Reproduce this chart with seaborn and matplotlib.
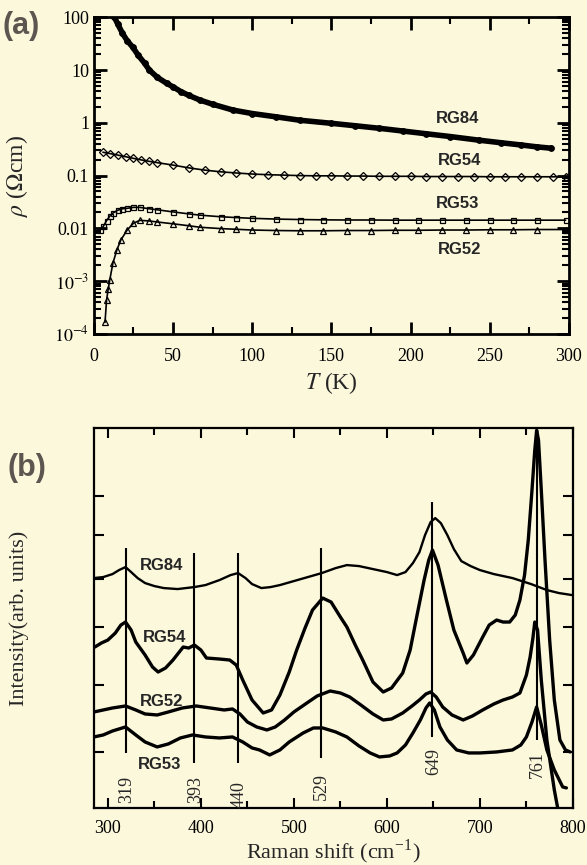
import numpy as np
import pandas as pd
import matplotlib
matplotlib.use("Agg")
import matplotlib.pyplot as plt
import seaborn as sns

# ===================== Data: resistivity (panel a) =====================
t_84 = [13, 15, 18, 21, 24.6, 28, 32, 35, 40, 46, 50, 55, 60, 67, 75, 88, 100, 115, 130, 150,
        165, 180, 195, 210, 225, 243, 257, 270, 280, 289]
rho_84 = [100, 75, 50, 36, 27, 19, 13.5, 10, 7.3, 5.6, 4.8, 3.9, 3.3, 2.7, 2.25, 1.74, 1.5, 1.3, 1.12, 0.98,
          0.88, 0.79, 0.7, 0.62, 0.55, 0.47, 0.42, 0.38, 0.35, 0.33]

t_54 = [5.7, 10, 15, 20, 25, 30, 35, 40, 50, 60, 70, 80, 90, 100, 110, 120, 130, 140, 150, 160,
        170, 180, 190, 200, 210, 220, 230, 240, 250, 260, 270, 280, 290, 298]
rho_54 = [0.277, 0.262, 0.245, 0.228, 0.212, 0.198, 0.186, 0.176, 0.158, 0.14, 0.127, 0.118, 0.112, 0.107,
          0.104, 0.102, 0.1, 0.099, 0.099, 0.098, 0.098, 0.097, 0.097, 0.097, 0.096, 0.096, 0.096, 0.096,
          0.095, 0.095, 0.095, 0.095, 0.095, 0.095]

t_53 = [4, 6, 8, 10, 12, 15, 18, 21, 25, 29, 35, 40, 50, 60, 67, 80, 90, 100, 115, 130, 145, 160, 175,
        190, 205, 220, 235, 250, 265, 280, 298]
rho_53 = [0.0093, 0.011, 0.014, 0.017, 0.0195, 0.022, 0.0235, 0.024, 0.025, 0.025, 0.0235, 0.0225, 0.0205,
          0.0188, 0.0178, 0.0166, 0.016, 0.0155, 0.015, 0.0147, 0.0145, 0.0144, 0.0144, 0.0143, 0.0143,
          0.0143, 0.0143, 0.0143, 0.0143, 0.0143, 0.0143]

t_52 = [7, 8, 9, 10, 12, 14.5, 17, 21, 25, 29, 35, 40, 50, 60, 67, 80, 90, 100, 115, 130, 145, 160, 175,
        190, 205, 220, 235, 250, 265, 280, 298]
rho_52 = [1.65e-4, 4.4e-4, 7e-4, 1.05e-3, 2.2e-3, 3.9e-3, 6e-3, 9.3e-3, 0.0125, 0.0142, 0.0138, 0.0132,
          0.0122, 0.0112, 0.0105, 0.0099, 0.0096, 0.0093, 0.0091, 0.009, 0.009, 0.0091, 0.0091, 0.0092,
          0.0092, 0.0093, 0.0093, 0.0094, 0.0094, 0.0095, 0.0095]

# ===================== Data: Raman spectra (panel b), arb. units =====================
w_84 = [285, 295, 305, 312, 319, 325, 332, 340, 350, 360, 375, 393, 405, 420, 432, 440, 448, 455, 465,
        475, 485, 500, 515, 530, 545, 557, 570, 585, 600, 611, 620, 628, 635, 641, 647, 652, 658, 665,
        672, 680, 690, 700, 715, 735, 755, 772, 785, 799]
i_84 = [230, 231, 234, 238, 241, 236, 230, 225, 222, 220, 219, 221, 223, 228, 233, 235, 230, 224, 220,
        221, 223, 227, 231, 235, 240, 243, 242, 239, 236, 233, 236, 245, 256, 273, 286, 290, 285, 273,
        259, 247, 242, 238, 234, 230, 224, 218, 215, 213]

w_54 = [286, 293, 300, 308, 314, 319, 325, 330, 340, 348, 354, 362, 370, 381, 387, 393, 400, 406, 420,
        431, 438, 445, 455, 467, 476, 485, 495, 503, 512, 520, 531, 540, 550, 557, 566, 574, 585, 596,
        605, 617, 625, 632, 640, 645, 649, 655, 664, 672, 682, 686, 693, 703, 710, 718, 725, 732, 738,
        743, 748, 752, 756, 759, 761, 763, 766, 770, 775, 780, 786, 792, 797]
i_54 = [161, 165, 168, 175, 183, 186, 178, 166, 153, 141, 136, 140, 148, 161, 160, 163, 158, 150, 149,
        148, 143, 128, 108, 95, 98, 113, 136, 158, 180, 198, 210, 206, 191, 181, 163, 148, 126, 116,
        120, 135, 158, 191, 228, 248, 258, 243, 208, 178, 155, 145, 153, 171, 183, 188, 186, 186, 193,
        208, 233, 268, 318, 358, 378, 368, 318, 248, 168, 108, 68, 58, 56]

w_52 = [285, 295, 305, 319, 330, 340, 353, 365, 380, 395, 410, 425, 434, 442, 450, 460, 471, 480, 490,
        500, 514, 525, 539, 550, 560, 572, 585, 596, 605, 617, 627, 635, 642, 647, 653, 660, 670, 682,
        692, 703, 715, 725, 735, 743, 750, 754, 757, 759, 762, 766, 772, 780, 786]
i_52 = [96, 98, 100, 102, 98, 94, 93, 96, 100, 102, 100, 98, 99, 94, 86, 81, 78, 81, 88, 96, 105, 112,
        117, 115, 111, 103, 94, 88, 89, 95, 102, 108, 114, 116, 111, 101, 93, 88, 92, 98, 104, 108, 111,
        115, 133, 151, 170, 186, 178, 128, 68, 18, -12]

w_53 = [285, 295, 305, 319, 330, 340, 353, 365, 378, 391, 405, 420, 434, 445, 455, 463, 474, 485, 495,
        510, 521, 531, 545, 557, 570, 582, 592, 603, 611, 620, 628, 636, 642, 646, 651, 657, 665, 675,
        688, 700, 718, 735, 744, 750, 756, 761, 766, 772, 780, 789, 793]
i_53 = [71, 73, 77, 81, 73, 66, 61, 64, 70, 73, 71, 70, 71, 66, 60, 58, 53, 58, 66, 75, 80, 80, 76, 71,
        62, 55, 51, 52, 55, 63, 75, 88, 100, 105, 98, 81, 68, 58, 55, 55, 56, 58, 63, 71, 86, 101, 83,
        58, 38, 21, 20]

peak_pos = [319, 393, 440, 529, 649, 761]
peak_top = [260, 255, 255, 260, 306, 378]
peak_bot = [55, 45, 45, 50, 71, 68]
peak_lab_y = [18, 18, 13, 21, 46, 43]

b_yticks = [56, 123, 181, 229, 273, 312]

bg = "#fcf8dc"
sns.set_theme(style="ticks")
plt.rcParams.update({
    "font.family": ["Liberation Serif", "DejaVu Serif"],
    "mathtext.fontset": "stix",
    "figure.facecolor": bg,
    "axes.facecolor": bg,
    "savefig.facecolor": bg,
    "axes.edgecolor": "black",
    "axes.linewidth": 2.0,
    "xtick.direction": "in",
    "ytick.direction": "in",
    "xtick.color": "black",
    "ytick.color": "black",
})

fig = plt.figure(figsize=(5.87, 8.65), dpi=100)
ax1 = fig.add_axes([0.160, 0.614, 0.809, 0.366])
ax2 = fig.add_axes([0.160, 0.066, 0.816, 0.439])

# ===================== Panel (a) =====================
series_a = [
    ("RG84", t_84, rho_84, "o", 4.0, True),
    ("RG54", t_54, rho_54, "D", 3.6, False),
    ("RG53", t_53, rho_53, "s", 3.6, False),
    ("RG52", t_52, rho_52, "^", 3.8, False),
]
for name, t, r, mk, ms, filled in series_a:
    df = pd.DataFrame({"T": t, "rho": r})
    sns.lineplot(data=df, x="T", y="rho", ax=ax1, color="black",
                 lw=4.0 if filled else 1.2, marker=mk, ms=ms,
                 mfc="black" if filled else "none", mec="black", mew=0.9,
                 sort=False, estimator=None)

ax1.set_yscale("log")
ax1.set_xlim(0, 300)
ax1.set_ylim(1e-4, 100)
ax1.set_xticks(np.arange(0, 301, 50))
ax1.set_xticks(np.arange(0, 301, 25), minor=True)
ax1.set_yticks([1e-4, 1e-3, 1e-2, 1e-1, 1, 10, 100])
ax1.set_yticklabels(["$10^{-4}$", "$10^{-3}$", "0.01", "0.1", "1", "10", "100"])
ax1.tick_params(axis="x", which="major", pad=10)
ax1.tick_params(which="major", length=9, width=2, labelsize=13, top=True, right=True)
ax1.tick_params(which="minor", length=5, width=1.5, top=True, right=True)
ax1.set_xlabel("$T$ (K)", fontsize=17, labelpad=4)
ax1.set_ylabel(r"$\rho$ ($\Omega$cm)", fontsize=17)
ax1.yaxis.set_label_coords(-0.135, 0.5)

for name, tx, ty in [("RG84", 230, 1.22), ("RG54", 231, 0.196), ("RG53", 230, 0.030), ("RG52", 231, 0.0039)]:
    ax1.text(tx, ty, name, fontsize=12, fontweight="bold", family="Liberation Sans",
             ha="center", va="center")

# ===================== Panel (b) =====================
for w, inten, lw in [(w_84, i_84, 1.7), (w_54, i_54, 2.4), (w_52, i_52, 2.4), (w_53, i_53, 2.4)]:
    df = pd.DataFrame({"shift": w, "I": inten})
    sns.lineplot(data=df, x="shift", y="I", ax=ax2, color="black", lw=lw,
                 sort=False, estimator=None)

ax2.vlines(peak_pos, peak_bot, peak_top, color="black", lw=1.5)
for p, ly in zip(peak_pos, peak_lab_y):
    ax2.text(p + 1, ly, str(p), rotation=90, fontsize=13, ha="center", va="center")

for name, tx, ty in [("RG84", 358, 243), ("RG54", 361, 171), ("RG52", 358, 106), ("RG53", 356, 43)]:
    ax2.text(tx, ty, name, fontsize=12, fontweight="bold", family="Liberation Sans",
             ha="center", va="center")

ax2.set_xlim(285, 800)
ax2.set_ylim(0, 380)
ax2.set_xticks(np.arange(300, 801, 100))
ax2.set_xticks(np.arange(300, 801, 50), minor=True)
ax2.set_yticks(b_yticks)
ax2.set_yticklabels([])
ax2.tick_params(which="major", length=7, width=1.5, labelsize=13, top=True, right=True, pad=9)
ax2.tick_params(which="minor", length=5, width=1.5, top=True, right=True)
for s in ax2.spines.values():
    s.set_linewidth(1.6)
ax2.set_xlabel("Raman shift (cm$^{\\mathregular{-1}}$)", fontsize=16, labelpad=0)
ax2.set_ylabel("Intensity(arb. units)", fontsize=16)
ax2.yaxis.set_label_coords(-0.135, 0.5)

# ===================== Panel letters =====================
fig.text(0.005, 0.970, "(a)", fontsize=22, fontweight="bold", family="Liberation Sans",
         color="#5c5650", ha="left", va="center")
fig.text(0.012, 0.459, "(b)", fontsize=22, fontweight="bold", family="Liberation Sans",
         color="#5c5650", ha="left", va="center")

fig.savefig("out.png", dpi=100)
